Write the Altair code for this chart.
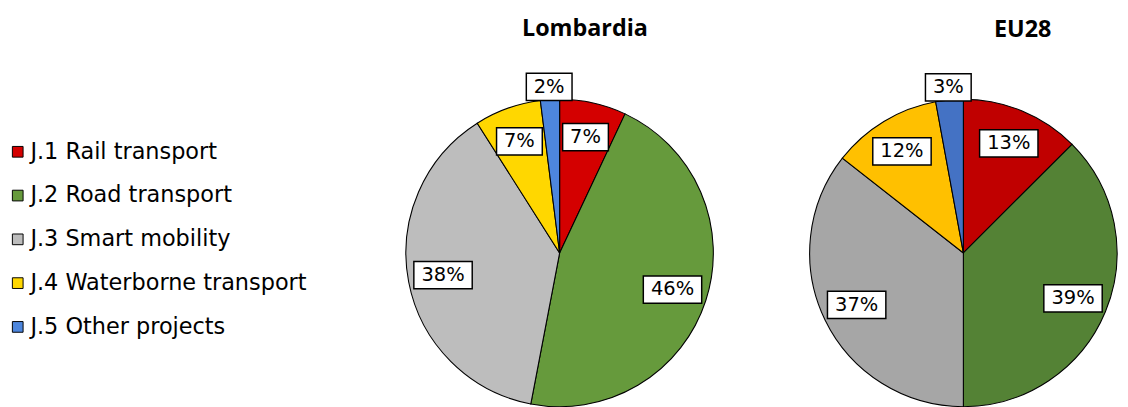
import altair as alt
import pandas as pd

categories = ["J.1 Rail transport", "J.2 Road transport", "J.3 Smart mobility",
              "J.4 Waterborne transport", "J.5 Other projects"]
lomb_values = [7, 46, 38, 7, 2]
eu_values = [13, 39, 37, 12, 3]

lomb_colors = ["#d40000", "#669a3c", "#bdbdbd", "#ffd700", "#4d86dd"]
eu_colors = ["#c00000", "#548235", "#a6a6a6", "#ffc000", "#4472c4"]

PW, PH = 316, 340
R = 158

def pie(values, colors, title, dx):
    df = pd.DataFrame({"category": categories, "idx": list(range(len(categories))), "value": values})
    base = alt.Chart(df)
    arcs = base.mark_arc(radius=R, stroke="black", strokeWidth=1.1).encode(
        theta=alt.Theta("value:Q", stack=True),
        order=alt.Order("idx:Q"),
        color=alt.Color("category:N", scale=alt.Scale(domain=categories, range=colors), legend=None),
    )
    lab = base.transform_joinaggregate(total="sum(value)").transform_window(
        cum="sum(value)", sort=[alt.SortField("idx")], frame=[None, 0]
    ).transform_calculate(
        ang="2*PI*(datum.cum - datum.value/2)/datum.total",
        r="datum.value < 5 ? 171 : 122",
        label="datum.value + '%'",
    ).transform_calculate(
        px="datum.r*sin(datum.ang)",
        py="datum.r*cos(datum.ang)",
    )
    xenc = alt.X("px:Q", scale=alt.Scale(domain=[-PW / 2, PW / 2], nice=False, zero=False), axis=None)
    yenc = alt.Y("py:Q", scale=alt.Scale(domain=[-PH / 2, PH / 2], nice=False, zero=False), axis=None)
    box_short = lab.transform_filter("datum.value < 10").mark_point(
        shape="M-1,-0.596H1V0.596H-1Z", size=2209, filled=True, fill="white",
        stroke="black", strokeWidth=1.5, opacity=1
    ).encode(x=xenc, y=yenc)
    box_long = lab.transform_filter("datum.value >= 10").mark_point(
        shape="M-1,-0.467H1V0.467H-1Z", size=3600, filled=True, fill="white",
        stroke="black", strokeWidth=1.5, opacity=1
    ).encode(x=xenc, y=yenc)
    text = lab.mark_text(font="DejaVu Sans", fontSize=20, color="black",
                         align="center", baseline="middle").encode(x=xenc, y=yenc, text="label:N")
    return alt.layer(arcs, box_short, box_long, text).properties(
        width=PW, height=PH,
        title=alt.TitleParams(title, font="Open Sans", fontSize=24, fontWeight="bold",
                              color="black", dx=dx, offset=30, anchor="middle"),
    )

leg_df = pd.DataFrame({"category": categories})
ly = alt.Y("category:N", sort=categories,
           scale=alt.Scale(type="point", domain=categories, range=[66, 246], padding=0), axis=None)
leg_sq = alt.Chart(leg_df).mark_square(size=121, filled=True, stroke="black",
                                        strokeWidth=1, opacity=1).encode(
    x=alt.value(10), y=ly,
    color=alt.Color("category:N", scale=alt.Scale(domain=categories, range=lomb_colors), legend=None),
)
leg_tx = alt.Chart(leg_df).mark_text(font="DejaVu Sans", fontSize=23, color="black",
                                     align="left", baseline="middle").encode(
    x=alt.value(23), y=ly, text="category:N")
legend = alt.layer(leg_sq, leg_tx).properties(width=313, height=PH)

lomb = pie(lomb_values, lomb_colors, "Lombardia", 26)
eu = pie(eu_values, eu_colors, "EU28", 61)

chart = alt.hconcat(legend, lomb, eu, spacing=93).resolve_scale(color="independent").properties(
    padding={"left": 0, "top": 4, "right": 0, "bottom": 0}
).configure_view(stroke=None)

chart.save("out.html", embed_options={"renderer": "svg", "actions": False})
